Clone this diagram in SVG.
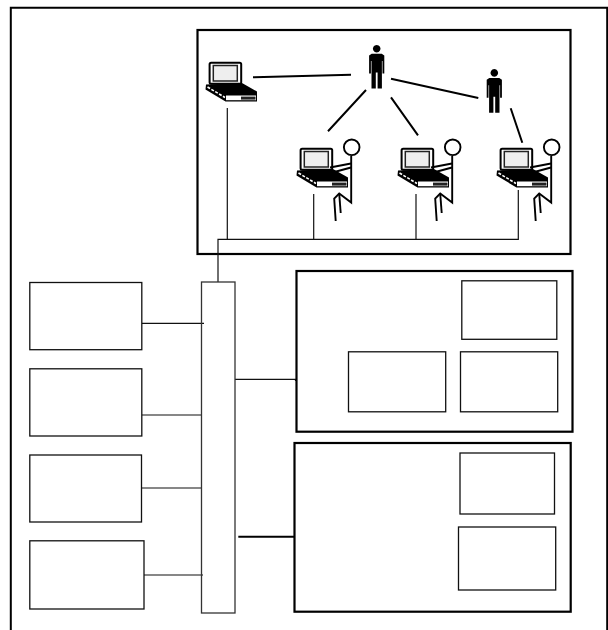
<svg xmlns="http://www.w3.org/2000/svg" width="608" height="630" viewBox="0 0 608 630">
<style>
.bx{fill:#fff;stroke:#111;stroke-width:1.3}
.bg{fill:#fff;stroke:#000;stroke-width:2.2}
.c{fill:none;stroke:#111;stroke-width:1.2}
.t{fill:none;stroke:#000;stroke-width:2}
.s{fill:none;stroke:#000;stroke-width:1.9}
</style>
<defs>
<g id="laptop">
<rect x="4.6" y="2.8" width="31.6" height="21" fill="#fff" stroke="#000" stroke-width="2" rx="1.5"/>
<rect x="8.3" y="5.5" width="24" height="15.5" fill="#eee" stroke="#222" stroke-width="1.5"/>
<path d="M1 24.5L37 23L52 31.5V41.5H20.5L0.5 29.5Z" fill="#000"/>
<path d="M21 35.5H51V40.2H21Z" fill="#fff"/>
<rect x="36" y="36.6" width="14.5" height="3" fill="#222"/>
<path d="M2.5 27L20 37.5" stroke="#fff" stroke-width="1.6" stroke-dasharray="3 1.5" fill="none"/>
</g>
<g id="sitter" class="s">
<circle cx="55.7" cy="1.3" r="7.8" fill="#fff"/>
<path d="M55.2 10V56.5L43.2 47.5L38.2 52.5L39.7 75"/>
<path d="M43.2 47.5L44.7 67"/>
<path d="M55 17.5L34 21.5M55 21.5L31 28"/>
</g>
<path id="man" d="M0 0a3.8 3.8 0 1 1 .01 0ZM-5 1.2H5L7.6 3V21H5.8V8.5H5.2V36H.9V20H-.9V36H-5.2V8.5H-5.8V21H-7.6V3Z" fill="#000"/>
</defs>
<path d="M10.8 630V7.8H607.2V630" fill="none" stroke="#000" stroke-width="2"/>
<g id="top-panel"><rect class="bg" x="197.5" y="30" width="373" height="224"/></g>
<g id="connectors">
<path class="t" d="M253 77.3L351 74.7M328 131.3L366 90M391 97.3L418 135.3M391 78.7L478.3 98M510.7 108.3L522.3 142.7"/>
<path class="c" d="M218 282V239.3H518.3V190M227.3 108V239.3M313.7 194V239.3M416 194V239.3"/>
<path class="c" d="M142 323.3H204M142 415H201M142 488H202M144 575H203M235 379.3H295.5V381"/>
<path d="M238.3 536.7H297" fill="none" stroke="#000" stroke-width="2"/>
</g>
<g id="laptop-1"><use href="#laptop" x="205" y="60"/></g>
<g id="person-1"><use href="#man" x="376.7" y="52.5"/></g>
<g id="person-2"><use href="#man" x="494.3" y="76.7"/></g>
<g id="user-1"><use href="#laptop" x="296" y="146"/><use href="#sitter" x="296" y="146"/></g>
<g id="user-2"><use href="#laptop" x="397" y="146"/><use href="#sitter" x="397" y="146"/></g>
<g id="user-3"><use href="#laptop" x="496" y="146"/><use href="#sitter" x="496" y="146"/></g>
<g id="box-1"><rect class="bx" x="29.8" y="282.5" width="112" height="67.2"/></g>
<g id="box-2"><rect class="bx" x="29.8" y="368.8" width="112" height="67.2"/></g>
<g id="box-3"><rect class="bx" x="29.8" y="455" width="111.7" height="67"/></g>
<g id="box-4"><rect class="bx" x="29.8" y="540.8" width="114.2" height="68.2"/></g>
<g id="bus"><rect x="201.5" y="282" width="33.5" height="331" fill="none" stroke="#333" stroke-width="1.3"/></g>
<g id="panel-a">
<rect class="bg" x="296.5" y="271" width="276" height="160.7"/>
<rect class="bx" x="461.8" y="280.8" width="95" height="58.5"/>
<rect class="bx" x="348.5" y="351.8" width="97.2" height="60"/>
<rect class="bx" x="460.5" y="351.8" width="97.2" height="60"/>
</g>
<g id="panel-b">
<rect class="bg" x="294.5" y="443" width="276.2" height="168.7"/>
<rect class="bx" x="460" y="453" width="94.5" height="61"/>
<rect class="bx" x="458.5" y="527" width="97.2" height="63"/>
</g>
</svg>
